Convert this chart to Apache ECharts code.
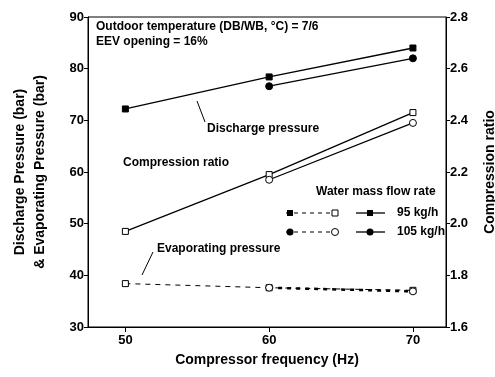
<!DOCTYPE html>
<html><head><meta charset="utf-8">
<script src="https://cdn.jsdelivr.net/npm/echarts@6/dist/echarts.min.js"></script>
<style>html,body{margin:0;padding:0;background:#fff}#c{width:495px;height:377px}</style>
</head><body><div id="c"></div>
<script>
const frequency = [50, 60, 70];
const discharge95 = [72.2, 78.4, 84.0];
const discharge105 = [null, 76.6, 82.0];
const evaporating95 = [38.4, 37.6, 37.1];
const evaporating105 = [null, 37.6, 36.9];
const ratio95 = [1.97, 2.19, 2.43];
const ratio105 = [null, 2.17, 2.39];
const leftTicks = [30, 90, 10];
const rightTicks = [1.6, 2.8, 0.2];

const pairs = (ys) => frequency.map((x, i) => [x, ys[i]]).filter(p => p[1] !== null);
const F = 'Liberation Sans, Arial, sans-serif';
const chart = echarts.init(document.getElementById('c'), null, {renderer: 'canvas'});
const filled = {color: '#000', borderColor: '#000', borderWidth: 1};
const open = {color: '#fff', borderColor: '#000', borderWidth: 1};

chart.setOption({
  animation: false,
  backgroundColor: '#fff',
  grid: {left: 88, right: 49, top: 17, bottom: 50, show: true, borderColor: '#000', borderWidth: 1, outerBoundsMode: 'none', containLabel: false},
  xAxis: {
    type: 'value', min: 47.4, max: 72.3,
    name: 'Compressor frequency (Hz)', nameLocation: 'middle', nameGap: 26,
    nameTextStyle: {fontFamily: F, fontWeight: 'bold', fontSize: 14, color: '#000'},
    axisLine: {lineStyle: {color: '#000', width: 1}},
    axisTick: {customValues: frequency, length: 5, lineStyle: {color: '#000'}},
    axisLabel: {customValues: frequency, fontFamily: F, fontWeight: 'bold', fontSize: 13, color: '#000', margin: 7},
    splitLine: {show: false}
  },
  yAxis: [{
    type: 'value', min: leftTicks[0], max: leftTicks[1], interval: leftTicks[2],
    name: 'Discharge Pressure (bar)\n& Evaporating Pressure (bar)', nameLocation: 'middle', nameGap: 38, nameRotate: 90,
    nameTextStyle: {fontFamily: F, fontWeight: 'bold', fontSize: 14, color: '#000', lineHeight: 20},
    axisLine: {show: true, lineStyle: {color: '#000'}},
    axisTick: {show: true, length: 4, lineStyle: {color: '#000'}},
    axisLabel: {fontFamily: F, fontWeight: 'bold', fontSize: 13, color: '#000', margin: 4},
    splitLine: {show: false}
  }, {
    type: 'value', min: rightTicks[0], max: rightTicks[1], interval: rightTicks[2], position: 'right',
    name: 'Compression ratio', nameLocation: 'middle', nameGap: 37, nameRotate: 90,
    nameTextStyle: {fontFamily: F, fontWeight: 'bold', fontSize: 14, color: '#000'},
    axisLine: {show: true, lineStyle: {color: '#000'}},
    axisTick: {show: true, length: 4, lineStyle: {color: '#000'}},
    axisLabel: {fontFamily: F, fontWeight: 'bold', fontSize: 13, color: '#000', margin: 4, formatter: v => v.toFixed(1)},
    splitLine: {show: false}
  }],
  series: [
    {type: 'line', data: pairs(discharge95), symbol: 'rect', symbolSize: 6, itemStyle: filled, lineStyle: {color: '#000', width: 1.3}},
    {type: 'line', data: pairs(discharge105), symbol: 'circle', symbolSize: 7, itemStyle: filled, lineStyle: {color: '#000', width: 1.3}},
    {type: 'line', yAxisIndex: 1, data: pairs(ratio95), symbol: 'rect', symbolSize: 6, itemStyle: open, lineStyle: {color: '#000', width: 1.3}},
    {type: 'line', yAxisIndex: 1, data: pairs(ratio105), symbol: 'circle', symbolSize: 7, itemStyle: open, lineStyle: {color: '#000', width: 1.3}},
    {type: 'line', data: pairs(evaporating95), symbol: 'rect', symbolSize: 6, itemStyle: open, lineStyle: {color: '#000', width: 1, type: [5, 5]}},
    {type: 'line', data: pairs(evaporating105), symbol: 'circle', symbolSize: 7, itemStyle: open, lineStyle: {color: '#000', width: 2.5, type: [4, 5]}}
  ],
  graphic: [
    {type: 'text', left: 96, top: 21, style: {text: 'Outdoor temperature (DB/WB, °C) = 7/6', font: 'bold 12px ' + F, fill: '#000'}},
    {type: 'text', left: 96, top: 36, style: {text: 'EEV opening = 16%', font: 'bold 12px ' + F, fill: '#000'}},
    {type: 'text', left: 207, top: 123, style: {text: 'Discharge pressure', font: 'bold 12px ' + F, fill: '#000'}},
    {type: 'line', shape: {x1: 205, y1: 122, x2: 197, y2: 101}, style: {stroke: '#000', lineWidth: 1}},
    {type: 'text', left: 123, top: 157, style: {text: 'Compression ratio', font: 'bold 12px ' + F, fill: '#000'}},
    {type: 'text', left: 157, top: 243, style: {text: 'Evaporating pressure', font: 'bold 12px ' + F, fill: '#000'}},
    {type: 'line', shape: {x1: 153, y1: 252, x2: 142, y2: 275}, style: {stroke: '#000', lineWidth: 1}},
    {type: 'text', left: 316, top: 186, style: {text: 'Water mass flow rate', font: 'bold 12px ' + F, fill: '#000'}},
    {type: 'line', shape: {x1: 286, y1: 213, x2: 340, y2: 213}, style: {stroke: '#000', lineWidth: 1, lineDash: [4, 4]}},
    {type: 'rect', shape: {x: 287, y: 210, width: 6, height: 6}, style: {fill: '#000'}},
    {type: 'rect', shape: {x: 332, y: 210, width: 6, height: 6}, style: {fill: '#fff', stroke: '#000'}},
    {type: 'line', shape: {x1: 356, y1: 213, x2: 385, y2: 213}, style: {stroke: '#000', lineWidth: 1.3}},
    {type: 'rect', shape: {x: 367, y: 210, width: 6, height: 6}, style: {fill: '#000'}},
    {type: 'text', left: 397, top: 207, style: {text: '95 kg/h', font: 'bold 12px ' + F, fill: '#000'}},
    {type: 'line', shape: {x1: 286, y1: 232, x2: 340, y2: 232}, style: {stroke: '#000', lineWidth: 1, lineDash: [4, 4]}},
    {type: 'circle', shape: {cx: 290, cy: 232, r: 3.5}, style: {fill: '#000'}},
    {type: 'circle', shape: {cx: 335, cy: 232, r: 3.5}, style: {fill: '#fff', stroke: '#000'}},
    {type: 'line', shape: {x1: 356, y1: 232, x2: 385, y2: 232}, style: {stroke: '#000', lineWidth: 1.3}},
    {type: 'circle', shape: {cx: 370, cy: 232, r: 3.5}, style: {fill: '#000'}},
    {type: 'text', left: 397, top: 226, style: {text: '105 kg/h', font: 'bold 12px ' + F, fill: '#000'}}
  ]
});
</script></body></html>
